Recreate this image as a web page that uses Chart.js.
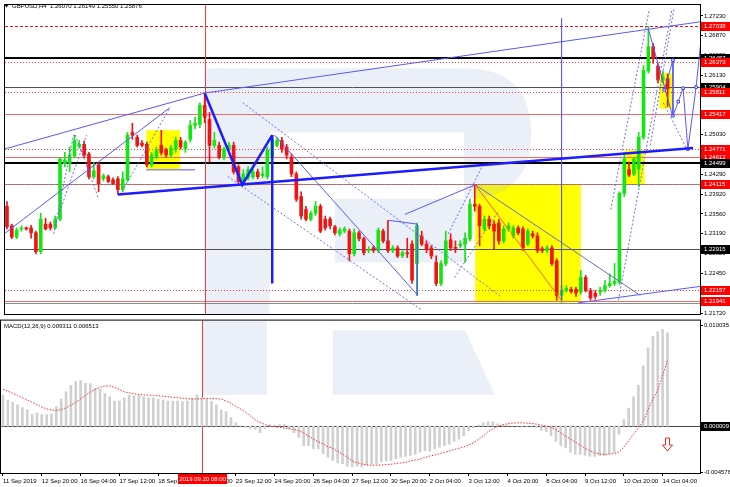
<!DOCTYPE html>
<html>
<head>
<meta charset="utf-8">
<script src="https://cdn.jsdelivr.net/npm/chart.js@4.4.1/dist/chart.umd.min.js"></script>
<style>
  html, body { margin: 0; padding: 0; background: #fff; }
  #wrap { position: relative; width: 730px; height: 487px; overflow: hidden; background: #fff; }
  #priceBox { position: absolute; left: 0; top: 0; width: 730px; height: 320px; }
  #macdBox { position: absolute; left: 0; top: 316px; width: 730px; height: 171px; }
</style>
</head>
<body>
<div id="wrap">
  <div id="priceBox"><canvas id="price"></canvas></div>
  <div id="macdBox"><canvas id="macd"></canvas></div>
</div>
<script>
// GBPUSD H4 candles, one entry per bar (bar 0 = 11 Sep 2019 12:00)
const opens = [
  1.2370, 1.2334, 1.2313, 1.2328, 1.2330, 1.2330, 1.2321, 1.2286, 1.2337, 1.2337,
  1.2330, 1.2346, 1.2449, 1.2450, 1.2463, 1.2481, 1.2485, 1.2467, 1.2425, 1.2447,
  1.2421, 1.2425, 1.2419, 1.2421, 1.2401, 1.2419, 1.2507, 1.2498, 1.2487, 1.2485,
  1.2447, 1.2461, 1.2483, 1.2474, 1.2465, 1.2476, 1.2492, 1.2476, 1.2494, 1.2520,
  1.2522, 1.2557, 1.2531, 1.2483, 1.2483, 1.2461, 1.2476, 1.2483, 1.2443, 1.2416,
  1.2423, 1.2425, 1.2434, 1.2427, 1.2425, 1.2461, 1.2483, 1.2492, 1.2480, 1.2461,
  1.2430, 1.2388, 1.2364, 1.2346, 1.2357, 1.2370, 1.2346, 1.2346, 1.2332, 1.2319,
  1.2324, 1.2324, 1.2282, 1.2321, 1.2310, 1.2288, 1.2293, 1.2288, 1.2324, 1.2306,
  1.2288, 1.2293, 1.2278, 1.2284, 1.2300, 1.2264, 1.2315, 1.2300, 1.2293, 1.2266,
  1.2227, 1.2264, 1.2308, 1.2293, 1.2297, 1.2300, 1.2310, 1.2374, 1.2370, 1.2328,
  1.2346, 1.2337, 1.2339, 1.2306, 1.2328, 1.2315, 1.2330, 1.2328, 1.2300, 1.2319,
  1.2315, 1.2291, 1.2288, 1.2293, 1.2269, 1.2205, 1.2214, 1.2216, 1.2216, 1.2211,
  1.2238, 1.2214, 1.2209, 1.2211, 1.2214, 1.2223, 1.2227, 1.2229, 1.2394, 1.2438,
  1.2430, 1.2439, 1.2498, 1.2621, 1.2666, 1.2630, 1.2604, 1.2607
];
const highs = [
  1.2379, 1.2337, 1.2330, 1.2334, 1.2332, 1.2335, 1.2324, 1.2357, 1.2348, 1.2341,
  1.2352, 1.2461, 1.2470, 1.2480, 1.2502, 1.2492, 1.2491, 1.2470, 1.2452, 1.2452,
  1.2430, 1.2428, 1.2423, 1.2425, 1.2434, 1.2507, 1.2524, 1.2502, 1.2492, 1.2489,
  1.2470, 1.2480, 1.2511, 1.2478, 1.2483, 1.2498, 1.2498, 1.2492, 1.2529, 1.2535,
  1.2562, 1.2580, 1.2544, 1.2507, 1.2489, 1.2480, 1.2489, 1.2489, 1.2447, 1.2438,
  1.2443, 1.2439, 1.2439, 1.2443, 1.2480, 1.2502, 1.2498, 1.2498, 1.2485, 1.2467,
  1.2434, 1.2397, 1.2370, 1.2361, 1.2379, 1.2374, 1.2352, 1.2350, 1.2335, 1.2330,
  1.2332, 1.2328, 1.2328, 1.2324, 1.2313, 1.2295, 1.2297, 1.2330, 1.2328, 1.2344,
  1.2297, 1.2297, 1.2288, 1.2311, 1.2306, 1.2339, 1.2324, 1.2306, 1.2297, 1.2278,
  1.2269, 1.2324, 1.2319, 1.2306, 1.2306, 1.2321, 1.2383, 1.2410, 1.2374, 1.2352,
  1.2352, 1.2343, 1.2346, 1.2334, 1.2339, 1.2334, 1.2334, 1.2332, 1.2328, 1.2324,
  1.2321, 1.2295, 1.2297, 1.2297, 1.2273, 1.2223, 1.2223, 1.2220, 1.2220, 1.2251,
  1.2242, 1.2218, 1.2214, 1.2220, 1.2233, 1.2245, 1.2264, 1.2397, 1.2470, 1.2452,
  1.2461, 1.2507, 1.2631, 1.2704, 1.2672, 1.2635, 1.2621, 1.2615
];
const lows = [
  1.2328, 1.2310, 1.2310, 1.2324, 1.2326, 1.2311, 1.2282, 1.2282, 1.2326, 1.2326,
  1.2328, 1.2343, 1.2443, 1.2434, 1.2460, 1.2478, 1.2461, 1.2421, 1.2421, 1.2397,
  1.2417, 1.2414, 1.2410, 1.2392, 1.2397, 1.2416, 1.2494, 1.2480, 1.2480, 1.2443,
  1.2443, 1.2458, 1.2465, 1.2461, 1.2461, 1.2470, 1.2476, 1.2470, 1.2489, 1.2514,
  1.2516, 1.2525, 1.2452, 1.2478, 1.2458, 1.2456, 1.2470, 1.2430, 1.2412, 1.2410,
  1.2419, 1.2421, 1.2421, 1.2423, 1.2421, 1.2456, 1.2480, 1.2470, 1.2458, 1.2425,
  1.2379, 1.2346, 1.2343, 1.2343, 1.2353, 1.2321, 1.2326, 1.2328, 1.2317, 1.2315,
  1.2321, 1.2269, 1.2278, 1.2306, 1.2280, 1.2284, 1.2284, 1.2284, 1.2302, 1.2284,
  1.2284, 1.2275, 1.2275, 1.2275, 1.2227, 1.2205, 1.2297, 1.2284, 1.2273, 1.2223,
  1.2223, 1.2260, 1.2288, 1.2284, 1.2293, 1.2266, 1.2306, 1.2361, 1.2297, 1.2324,
  1.2328, 1.2291, 1.2300, 1.2302, 1.2324, 1.2311, 1.2317, 1.2288, 1.2297, 1.2311,
  1.2284, 1.2284, 1.2284, 1.2260, 1.2196, 1.2192, 1.2211, 1.2209, 1.2203, 1.2207,
  1.2211, 1.2196, 1.2198, 1.2205, 1.2211, 1.2220, 1.2223, 1.2225, 1.2388, 1.2425,
  1.2427, 1.2406, 1.2494, 1.2617, 1.2635, 1.2599, 1.2599, 1.2555
];
const closes = [
  1.2332, 1.2313, 1.2326, 1.2330, 1.2328, 1.2321, 1.2286, 1.2346, 1.2328, 1.2330,
  1.2346, 1.2458, 1.2456, 1.2465, 1.2492, 1.2485, 1.2465, 1.2425, 1.2436, 1.2412,
  1.2427, 1.2416, 1.2412, 1.2401, 1.2421, 1.2502, 1.2502, 1.2483, 1.2483, 1.2447,
  1.2465, 1.2474, 1.2469, 1.2465, 1.2478, 1.2492, 1.2480, 1.2489, 1.2520, 1.2524,
  1.2557, 1.2535, 1.2483, 1.2492, 1.2461, 1.2476, 1.2483, 1.2434, 1.2416, 1.2430,
  1.2438, 1.2434, 1.2425, 1.2430, 1.2474, 1.2494, 1.2492, 1.2476, 1.2465, 1.2430,
  1.2383, 1.2352, 1.2346, 1.2357, 1.2370, 1.2324, 1.2330, 1.2334, 1.2321, 1.2326,
  1.2328, 1.2282, 1.2321, 1.2310, 1.2284, 1.2289, 1.2288, 1.2326, 1.2306, 1.2288,
  1.2293, 1.2278, 1.2284, 1.2282, 1.2233, 1.2334, 1.2300, 1.2291, 1.2278, 1.2227,
  1.2264, 1.2306, 1.2293, 1.2292, 1.2300, 1.2311, 1.2374, 1.2370, 1.2334, 1.2346,
  1.2334, 1.2324, 1.2306, 1.2328, 1.2334, 1.2330, 1.2321, 1.2293, 1.2324, 1.2315,
  1.2288, 1.2288, 1.2293, 1.2264, 1.2205, 1.2214, 1.2218, 1.2212, 1.2209, 1.2238,
  1.2214, 1.2200, 1.2203, 1.2214, 1.2223, 1.2227, 1.2231, 1.2394, 1.2458, 1.2428,
  1.2458, 1.2498, 1.2622, 1.2666, 1.2644, 1.2604, 1.2610, 1.25876
];

// MACD(12,26,9): main line (histogram) and signal line
const macdMain = [
  0.00309, 0.00260, 0.00237, 0.00211, 0.00185, 0.00163, 0.00120, 0.00130, 0.00114, 0.00114,
  0.00120, 0.00195, 0.00270, 0.00341, 0.00406, 0.00445, 0.00455, 0.00429, 0.00423, 0.00380,
  0.00367, 0.00325, 0.00293, 0.00250, 0.00250, 0.00283, 0.00309, 0.00302, 0.00309, 0.00293,
  0.00283, 0.00283, 0.00270, 0.00260, 0.00250, 0.00250, 0.00250, 0.00244, 0.00250, 0.00276,
  0.00315, 0.00283, 0.00270, 0.00244, 0.00211, 0.00163, 0.00146, 0.00088, 0.00033, 0.00002,
  -0.00016, -0.00023, -0.00033, -0.00065, -0.00023, 0.00016, 0.00010, 0.00016, 0.00016, -0.00033,
  -0.00065, -0.00114, -0.00195, -0.00195, -0.00228, -0.00228, -0.00276, -0.00309, -0.00341, -0.00367,
  -0.00374, -0.00400, -0.00406, -0.00400, -0.00406, -0.00390, -0.00380, -0.00380, -0.00358, -0.00348,
  -0.00341, -0.00325, -0.00309, -0.00302, -0.00293, -0.00283, -0.00260, -0.00244, -0.00250, -0.00228,
  -0.00211, -0.00195, -0.00179, -0.00153, -0.00130, -0.00098, -0.00049, -0.00016, 0.00010, 0.00033,
  0.00042, 0.00042, 0.00023, 0.00010, 0.00010, 0.00001, -0.00001, -0.00002, -0.00002, 0.00001,
  -0.00016, -0.00042, -0.00055, -0.00098, -0.00153, -0.00195, -0.00218, -0.00260, -0.00283, -0.00283,
  -0.00293, -0.00302, -0.00302, -0.00293, -0.00293, -0.00276, -0.00260, -0.00081, 0.00065, 0.00179,
  0.00293, 0.00406, 0.00601, 0.00780, 0.00894, 0.00943, 0.00965, 0.009311
];
const macdSignal = [
  0.00367, 0.00348, 0.00328, 0.00306, 0.00283, 0.00260, 0.00237, 0.00215, 0.00189, 0.00172,
  0.00159, 0.00156, 0.00166, 0.00182, 0.00208, 0.00237, 0.00270, 0.00306, 0.00341, 0.00364,
  0.00387, 0.00400, 0.00400, 0.00387, 0.00364, 0.00341, 0.00332, 0.00322, 0.00315, 0.00312,
  0.00309, 0.00306, 0.00302, 0.00299, 0.00293, 0.00286, 0.00283, 0.00280, 0.00273, 0.00270,
  0.00270, 0.00273, 0.00276, 0.00276, 0.00273, 0.00270, 0.00250, 0.00228, 0.00198, 0.00169,
  0.00140, 0.00101, 0.00062, 0.00036, 0.00016, 0.00000, -0.00007, -0.00013, -0.00020, -0.00023,
  -0.00033, -0.00046, -0.00068, -0.00098, -0.00130, -0.00156, -0.00179, -0.00205, -0.00221, -0.00250,
  -0.00280, -0.00309, -0.00348, -0.00364, -0.00377, -0.00387, -0.00390, -0.00390, -0.00387, -0.00384,
  -0.00380, -0.00374, -0.00367, -0.00361, -0.00348, -0.00338, -0.00328, -0.00312, -0.00299, -0.00289,
  -0.00276, -0.00263, -0.00250, -0.00234, -0.00221, -0.00208, -0.00189, -0.00166, -0.00133, -0.00098,
  -0.00055, -0.00029, -0.00003, 0.00013, 0.00023, 0.00029, 0.00033, 0.00033, 0.00029, 0.00026,
  0.00020, 0.00010, 0.00000, -0.00013, -0.00036, -0.00068, -0.00101, -0.00130, -0.00159, -0.00189,
  -0.00221, -0.00247, -0.00267, -0.00276, -0.00283, -0.00280, -0.00273, -0.00257, -0.00211, -0.00146,
  -0.00081, -0.00020, 0.00049, 0.00163, 0.00270, 0.00358, 0.00504, 0.006513
];

// axis ticks
const priceTicks = [1.21720, 1.22080, 1.22450, 1.22820, 1.23190, 1.23560, 1.23920, 1.24290,
  1.24660, 1.25030, 1.25390, 1.25750, 1.26130, 1.26500, 1.26870, 1.27230];
const macdTicks = [-0.004576, 0.010035];
const timeTickBars = [0, 8, 16, 24, 32, 40, 48, 56, 64, 72, 80, 88, 96, 104, 112, 120, 128, 136];
const timeTickLabels = ['11 Sep 2019', '12 Sep 20:00', '16 Sep 04:00', '17 Sep 12:00', '18 Sep 20:00',
  '20 Sep 04:00', '23 Sep 12:00', '24 Sep 20:00', '26 Sep 04:00', '27 Sep 12:00', '30 Sep 20:00',
  '2 Oct 04:00', '3 Oct 12:00', '4 Oct 20:00', '8 Oct 04:00', '9 Oct 12:00', '10 Oct 20:00', '14 Oct 04:00'];

// horizontal levels drawn on the price window
const levelPrices = [1.27038, 1.26457, 1.26373, 1.25904, 1.25811, 1.25417, 1.24771, 1.24612,
  1.24499, 1.24115, 1.22915, 1.22157, 1.21941];
const levelKinds = ['dash', 'thick', 'dot', 'thin', 'dot', 'solid', 'dot', 'solid',
  'thick', 'dotgray', 'thin', 'dot', 'solid'];
const extraGrayLevels = [1.2191];
const markedBar = 41;         // 2019.09.20 08:00
const markedBarText = '2019.09.20 08:00';

const levelStyle = {
  dash:    { color: '#ff1010', dash: [3, 2], width: 1, box: '#ff0000' },
  dot:     { color: '#ff3c3c', dash: [1, 2], width: 1, box: '#ff0000' },
  dotgray: { color: '#ff3c3c', dash: [1, 2], width: 1, box: '#ff0000', under: '#8c8c8c' },
  solid:   { color: '#f26a6a', dash: [], width: 1, box: '#ff0000' },
  thick:   { color: '#000000', dash: [], width: 2, box: '#000000' },
  thin:    { color: '#505050', dash: [], width: 1, box: '#000000' }
};

// analysis objects: [bar, price] points
const thickBlue = '#1c1cff', thinBlue = '#5858ff', dotBlue = '#6a6aff';
const trendLines = [
  { pts: [[-0.6, 1.2476], [41, 1.2580], [143.7, 1.2712]], color: thinBlue, width: 1 },
  { pts: [[-0.6, 1.2319], [33.8, 1.2553]], color: thinBlue, width: 1 },
  { pts: [[23, 1.2392], [142.3, 1.2478]], color: thickBlue, width: 2.5 },
  { pts: [[41, 1.2580], [48.8, 1.2410], [55, 1.2502]], color: thickBlue, width: 2.5 },
  { pts: [[55, 1.2502], [55, 1.2227]], color: thickBlue, width: 2.5 },
  { pts: [[55.5, 1.2502], [85.2, 1.2205]], color: thinBlue, width: 1 },
  { pts: [[79.2, 1.2344], [85.1, 1.2337], [85.1, 1.2205]], color: thinBlue, width: 1 },
  { pts: [[82.5, 1.2355], [97.1, 1.2410]], color: thinBlue, width: 1 },
  { pts: [[97.1, 1.2410], [115.3, 1.2192]], color: '#ff5a3c', width: 1 },
  { pts: [[97.1, 1.2410], [131.3, 1.2205]], color: '#6a6ac8', width: 1 },
  { pts: [[118.4, 1.2191], [144.1, 1.2222]], color: thinBlue, width: 1 },
  { pts: [[115, 1.2718], [115, 1.2196]], color: thinBlue, width: 1 },
  { pts: [[133, 1.2699], [138, 1.2538]], color: thinBlue, width: 1 },
  { pts: [[28.9, 1.2438], [39, 1.2438]], color: '#8c8cff', width: 1.5 },
  { pts: [[125.2, 1.2364], [133.2, 1.2736]], color: dotBlue, width: 1, dash: [2, 2] },
  { pts: [[126.8, 1.2196], [137.9, 1.2736]], color: dotBlue, width: 1, dash: [2, 2] },
  { pts: [[133.4, 1.2483], [138.3, 1.2736]], color: dotBlue, width: 1, dash: [2, 2] },
  { pts: [[136.1, 1.2562], [141.0, 1.2476]], color: dotBlue, width: 1, dash: [2, 2] },
  { pts: [[48.9, 1.2562], [102.5, 1.2202]], color: dotBlue, width: 1, dash: [2, 2] },
  { pts: [[45.8, 1.2425], [86, 1.2178]], color: dotBlue, width: 1, dash: [2, 2] },
  { pts: [[9.7, 1.2319], [13.8, 1.2502]], color: dotBlue, width: 1, dash: [2, 2] },
  { pts: [[10.1, 1.2339], [16.5, 1.2502]], color: dotBlue, width: 1, dash: [2, 2] },
  { pts: [[14.2, 1.2502], [19.0, 1.2384]], color: dotBlue, width: 1, dash: [2, 2] },
  { pts: [[23.5, 1.2392], [33.8, 1.2553]], color: dotBlue, width: 1, dash: [2, 2] },
  { pts: [[91.5, 1.2319], [99, 1.2452]], color: dotBlue, width: 1, dash: [2, 2] },
  { pts: [[92.8, 1.2238], [101.9, 1.2361]], color: dotBlue, width: 1, dash: [2, 2] }
];
const forecastPath = [[136.3, 1.2586], [138.1, 1.2641], [138.1, 1.2538], [139.2, 1.2564],
  [140.2, 1.2589], [141.2, 1.2476], [142.9, 1.2591], [144.1, 1.2694]];

// yellow rectangles: [bar from, bar to, price top, price bottom]
const yellowBoxes = [[28.9, 35.9, 1.2511, 1.2438], [97.1, 119.0, 1.2410, 1.2192],
  [128.2, 132.2, 1.2474, 1.2410], [135.3, 138.1, 1.2617, 1.2551]];

const BULL = '#14e614', BEAR = '#f01414';
const FONT = "'Liberation Sans', Arial, sans-serif";
const FSIZE = 6;
const WATERMARK = 'rgba(150, 170, 210, 0.19)';
const X_MIN = -0.41, X_MAX = 143.71;

Chart.defaults.font.family = FONT;
Chart.defaults.font.size = FSIZE;
Chart.defaults.color = '#000';
Chart.defaults.animation = false;

function px(s, v) { return s.getPixelForValue(v); }

function fillDataRect(ctx, x, y, r) {
  const x0 = px(x, r[0]), x1 = px(x, r[1]), y0 = px(y, r[2]), y1 = px(y, r[3]);
  ctx.fillRect(Math.min(x0, x1), Math.min(y0, y1), Math.abs(x1 - x0), Math.abs(y1 - y0));
}

function drawBox(ctx, left, yy, bg, text) {
  ctx.fillStyle = bg;
  ctx.fillRect(left, Math.round(yy) - 4, 29, 9);
  ctx.fillStyle = '#fff';
  ctx.textAlign = 'left';
  ctx.textBaseline = 'middle';
  ctx.fillText(text, left + 3, Math.round(yy) + 0.5);
}

const pricePaint = {
  id: 'pricePaint',
  beforeDatasetsDraw(chart) {
    const { ctx, chartArea: a, scales: { x, y } } = chart;
    ctx.save();
    ctx.beginPath();
    ctx.rect(a.left, a.top, a.width, a.height);
    ctx.clip();

    ctx.fillStyle = '#ffff00';
    yellowBoxes.forEach(r => fillDataRect(ctx, x, y, r));

    // faint logo in the background
    ctx.fillStyle = WATERMARK;
    fillDataRect(ctx, x, y, [41.0, 54.4, 1.2626, y.min]);
    fillDataRect(ctx, x, y, [68.0, 95.3, 1.2384, 1.2266]);
    ctx.beginPath();
    ctx.moveTo(px(x, 54.4), px(y, 1.2626));
    ctx.lineTo(px(x, 94.8), px(y, 1.2626));
    ctx.quadraticCurveTo(px(x, 108.7), px(y, 1.2626), px(x, 108.7), px(y, 1.2505));
    ctx.quadraticCurveTo(px(x, 108.7), px(y, 1.2384), px(x, 94.8), px(y, 1.2384));
    ctx.lineTo(px(x, 94.8), px(y, 1.2507));
    ctx.lineTo(px(x, 54.4), px(y, 1.2507));
    ctx.closePath();
    ctx.fill();

    // horizontal levels
    levelPrices.forEach((p, i) => {
      const st = levelStyle[levelKinds[i]];
      const yy = Math.round(px(y, p)) + (st.width === 2 ? 0 : 0.5);
      if (st.under) {
        ctx.setLineDash([]);
        ctx.strokeStyle = st.under;
        ctx.lineWidth = 1;
        ctx.beginPath(); ctx.moveTo(a.left, yy); ctx.lineTo(a.right, yy); ctx.stroke();
      }
      ctx.setLineDash(st.dash);
      ctx.strokeStyle = st.color;
      ctx.lineWidth = st.width;
      ctx.beginPath(); ctx.moveTo(a.left, yy); ctx.lineTo(a.right, yy); ctx.stroke();
    });
    ctx.setLineDash([]);
    ctx.strokeStyle = '#8c8c8c';
    ctx.lineWidth = 1;
    extraGrayLevels.forEach(p => {
      const yy = Math.round(px(y, p)) + 0.5;
      ctx.beginPath(); ctx.moveTo(a.left, yy); ctx.lineTo(a.right, yy); ctx.stroke();
    });

    // marked bar
    const mx = Math.round(px(x, markedBar)) + 0.5;
    ctx.strokeStyle = '#f03c3c';
    ctx.beginPath(); ctx.moveTo(mx, a.top); ctx.lineTo(mx, a.bottom); ctx.stroke();
    ctx.restore();
  },
  afterDraw(chart) {
    const { ctx, chartArea: a, scales: { y } } = chart;
    ctx.save();
    ctx.strokeStyle = '#000';
    ctx.lineWidth = 1;
    ctx.strokeRect(a.left - 0.5, a.top - 0.5, a.width + 1, a.height + 1);
    ctx.font = FSIZE + 'px ' + FONT;
    levelPrices.forEach((p, i) => {
      drawBox(ctx, a.right + 1, px(y, p), levelStyle[levelKinds[i]].box, p.toFixed(5));
    });
    // header
    ctx.fillStyle = '#000';
    ctx.beginPath(); ctx.moveTo(4, 4); ctx.lineTo(9, 4); ctx.lineTo(6.5, 7.5); ctx.closePath(); ctx.fill();
    ctx.textAlign = 'left';
    ctx.textBaseline = 'middle';
    ctx.fillText('GBPUSD,H4  1.26070 1.26149 1.25550 1.25876', 12, 6.5);
    ctx.restore();
  }
};

const macdPaint = {
  id: 'macdPaint',
  beforeDatasetsDraw(chart) {
    const { ctx, chartArea: a, scales: { x, y } } = chart;
    ctx.save();
    ctx.beginPath();
    ctx.rect(a.left, a.top, a.width, a.height);
    ctx.clip();
    ctx.fillStyle = WATERMARK;
    fillDataRect(ctx, x, y, [41.0, 54.4, y.max, 0.00312]);
    ctx.beginPath();
    ctx.moveTo(px(x, 68.0), px(y, 0.00955));
    ctx.lineTo(px(x, 95.3), px(y, 0.00955));
    ctx.lineTo(px(x, 101.4), px(y, 0.00312));
    ctx.lineTo(px(x, 68.0), px(y, 0.00312));
    ctx.closePath();
    ctx.fill();
    const zy = Math.round(px(y, 0.000009)) + 0.5;
    ctx.strokeStyle = '#444';
    ctx.lineWidth = 1;
    ctx.beginPath(); ctx.moveTo(a.left, zy); ctx.lineTo(a.right, zy); ctx.stroke();
    const mx = Math.round(px(x, markedBar)) + 0.5;
    ctx.strokeStyle = '#f03c3c';
    ctx.beginPath(); ctx.moveTo(mx, a.top); ctx.lineTo(mx, a.bottom); ctx.stroke();
    ctx.restore();
  },
  afterDraw(chart) {
    const { ctx, chartArea: a, scales: { x, y } } = chart;
    ctx.save();
    ctx.strokeStyle = '#000';
    ctx.lineWidth = 1;
    ctx.strokeRect(a.left - 0.5, a.top - 0.5, a.width + 1, a.height + 1);
    ctx.font = FSIZE + 'px ' + FONT;
    drawBox(ctx, a.right + 1, px(y, 0.000009), '#000', '0.000009');
    ctx.fillStyle = '#000';
    ctx.textAlign = 'left';
    ctx.textBaseline = 'middle';
    ctx.fillText('MACD(12,26,9) 0.009311 0.006513', 4, a.top + 6);

    // time marker on the axis
    const mx = px(x, markedBar);
    ctx.fillStyle = '#ff0000';
    ctx.fillRect(Math.round(mx) - 24, a.bottom + 1, 49, 10);
    ctx.fillStyle = '#fff';
    ctx.textAlign = 'center';
    ctx.fillText(markedBarText, Math.round(mx) + 0.5, a.bottom + 6.5);

    // down arrow signal
    const ax = Math.round(px(x, 137)) + 0.5, ay = Math.round(px(y, -0.00185));
    ctx.strokeStyle = '#ff2020';
    ctx.lineWidth = 1;
    ctx.beginPath();
    ctx.moveTo(ax - 2, ay - 7); ctx.lineTo(ax + 2, ay - 7); ctx.lineTo(ax + 2, ay);
    ctx.lineTo(ax + 5, ay); ctx.lineTo(ax, ay + 6); ctx.lineTo(ax - 5, ay);
    ctx.lineTo(ax - 2, ay); ctx.closePath();
    ctx.stroke();
    ctx.restore();
  }
};

const candleColors = opens.map((o, i) => closes[i] >= o ? BULL : BEAR);

const trendDatasets = trendLines.map(t => ({
  type: 'line',
  data: t.pts.map(p => ({ x: p[0], y: p[1] })),
  borderColor: t.color,
  borderWidth: t.width,
  borderDash: t.dash || [],
  pointRadius: 0,
  tension: 0,
  order: 0
}));
trendDatasets.push({
  type: 'line',
  data: forecastPath.map(p => ({ x: p[0], y: p[1] })),
  borderColor: thinBlue,
  borderWidth: 1,
  pointStyle: 'rect',
  pointRadius: 1.8,
  pointBackgroundColor: '#fff',
  pointBorderColor: '#3c3cff',
  pointBorderWidth: 1,
  tension: 0,
  order: 0
});

const xScaleBase = {
  type: 'linear',
  min: X_MIN,
  max: X_MAX,
  offset: false
};

new Chart(document.getElementById('price'), {
  type: 'bar',
  data: {
    datasets: trendDatasets.concat([
      {
        label: 'range',
        data: opens.map((o, i) => ({ x: i, y: [lows[i], highs[i]] })),
        backgroundColor: candleColors,
        barThickness: 1,
        grouped: false,
        order: 2
      },
      {
        label: 'body',
        data: opens.map((o, i) => ({ x: i, y: [o, closes[i]] })),
        backgroundColor: candleColors,
        barThickness: 3,
        minBarLength: 1,
        grouped: false,
        order: 1
      }
    ])
  },
  options: {
    responsive: true,
    maintainAspectRatio: false,
    layout: { padding: { top: 1, bottom: 6, left: 1, right: 0 } },
    plugins: { legend: { display: false }, tooltip: { enabled: false } },
    scales: {
      x: Object.assign({}, xScaleBase, { display: false }),
      y: {
        type: 'linear',
        position: 'right',
        min: 1.21704,
        max: 1.27432,
        afterBuildTicks: s => { s.ticks = priceTicks.map(v => ({ value: v })); },
        afterFit: s => { s.width = 30; },
        ticks: { callback: v => v.toFixed(5), padding: 1, font: { size: FSIZE }, color: '#000' },
        grid: { drawOnChartArea: false, tickLength: 3, color: '#000' },
        border: { color: '#000' }
      }
    }
  },
  plugins: [pricePaint]
});

new Chart(document.getElementById('macd'), {
  type: 'bar',
  data: {
    datasets: [
      {
        type: 'line',
        data: macdSignal.map((v, i) => ({ x: i, y: v })),
        borderColor: '#ff2a2a',
        borderWidth: 1,
        borderDash: [1.5, 1.5],
        pointRadius: 0,
        tension: 0,
        order: 0
      },
      {
        data: macdMain.map((v, i) => ({ x: i, y: v })),
        backgroundColor: '#d0d0d0',
        barThickness: 2,
        grouped: false,
        order: 1
      }
    ]
  },
  options: {
    responsive: true,
    maintainAspectRatio: false,
    layout: { padding: { top: 1, bottom: 0, left: 1, right: 0 } },
    plugins: { legend: { display: false }, tooltip: { enabled: false } },
    scales: {
      x: Object.assign({}, xScaleBase, {
        afterBuildTicks: s => { s.ticks = timeTickBars.map(v => ({ value: v })); },
        afterFit: s => { s.height = 14; },
        ticks: {
          autoSkip: false, maxRotation: 0, minRotation: 0, align: 'start', padding: 2,
          callback: (v, i) => timeTickLabels[i], font: { size: FSIZE }, color: '#000'
        },
        grid: { drawOnChartArea: false, tickLength: 3, color: '#000', offset: false },
        border: { color: '#000' }
      }),
      y: {
        type: 'linear',
        position: 'right',
        min: -0.004675,
        max: 0.010519,
        afterBuildTicks: s => { s.ticks = macdTicks.map(v => ({ value: v })); },
        afterFit: s => { s.width = 30; },
        ticks: { callback: v => v.toFixed(6), padding: 1, font: { size: FSIZE }, color: '#000' },
        grid: { drawOnChartArea: false, tickLength: 3, color: '#000' },
        border: { color: '#000' }
      }
    }
  },
  plugins: [macdPaint]
});
</script>
</body>
</html>
